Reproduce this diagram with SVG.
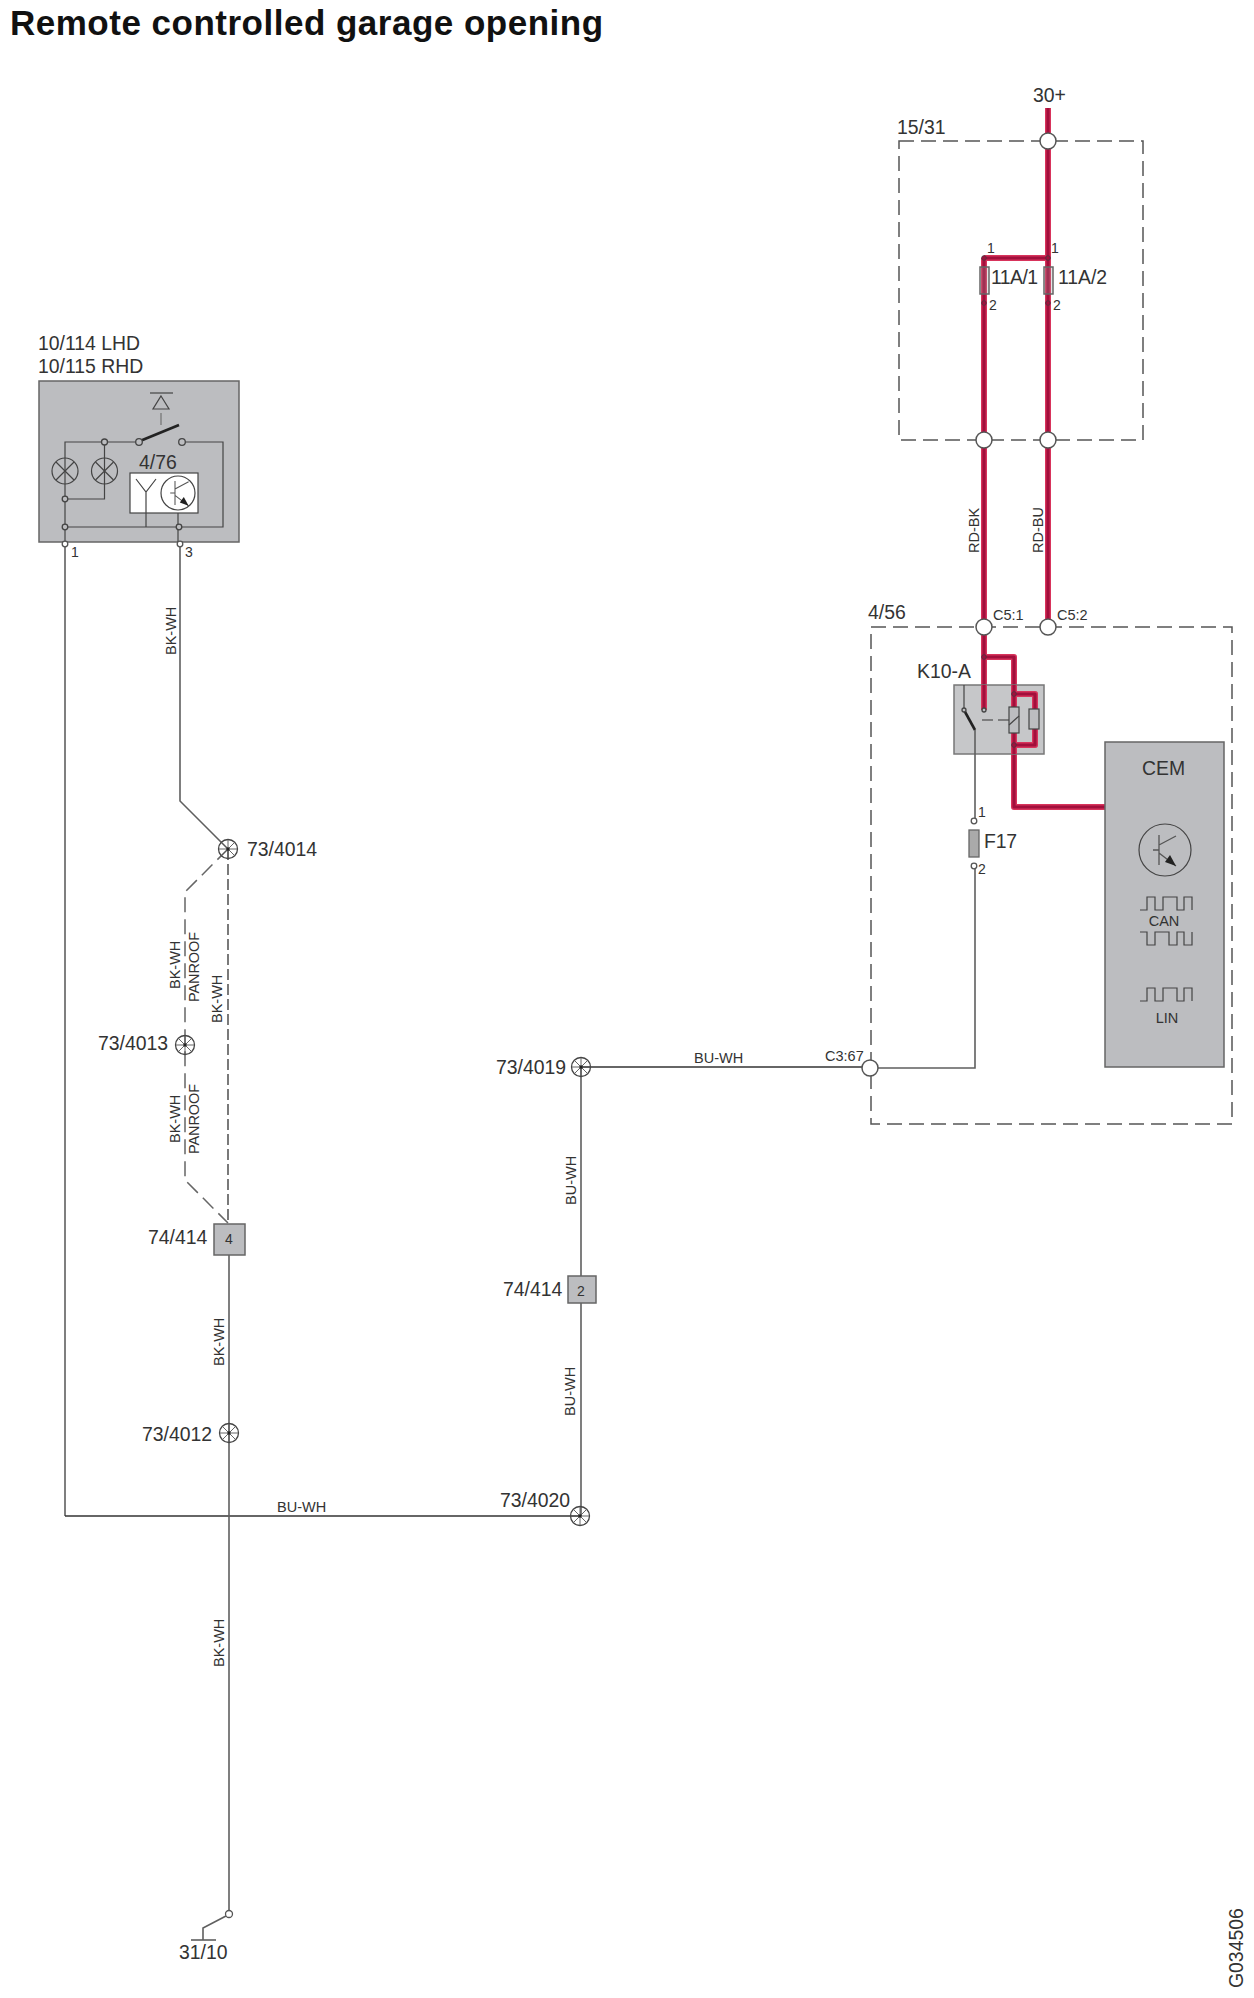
<svg xmlns="http://www.w3.org/2000/svg" width="1254" height="1998" viewBox="0 0 1254 1998">
<style>
text{font-family:"Liberation Sans",Arial,sans-serif;fill:#333}
.t19{font-size:19.4px}.t14{font-size:14.5px}.t13{font-size:14px}
.title{font-size:35px;font-weight:bold;fill:#111;letter-spacing:.5px}
.w{fill:none;stroke:#5f5f5f;stroke-width:1.6}
.wd{fill:none;stroke:#333;stroke-width:1.5}
.dash{fill:none;stroke:#666;stroke-width:1.5;stroke-dasharray:15 7}
.dash2{fill:none;stroke:#333;stroke-width:1.3;stroke-dasharray:11 4}
.box{fill:none;stroke:#555;stroke-width:1.5;stroke-dasharray:15 7}
.gray{fill:#bcbdc0;stroke:#666;stroke-width:1.5}
.thin{fill:none;stroke:#444;stroke-width:1.2}
.pin{fill:#fff;stroke:#555;stroke-width:1.3}
.pinG{fill:#bcbdc0;stroke:#444;stroke-width:1.3}
.port{fill:#fff;stroke:#555;stroke-width:1.5}
.rh{fill:none;stroke:#d8345c;stroke-width:6;stroke-linejoin:round}
.rc{fill:none;stroke:#a20f3c;stroke-width:3.2;stroke-linejoin:round}
.fuse{fill:#999;fill-opacity:.25;stroke:#666;stroke-width:1.5}
.fuseG{fill:#aaa;stroke:#666;stroke-width:1.3}
.rnode{fill:#a20f3c;stroke:#5a3040;stroke-width:1}
</style>
<defs>
<g id="splice"><circle r="9.500" fill="none" stroke="#444" stroke-width="1.300"/><path d="M-9.500 0H9.500M0-9.500V9.500M-6.700-6.700L6.700 6.700M-6.700 6.700L6.700-6.700" stroke="#555" stroke-width=".9" fill="none"/><circle r="1.700" fill="#222"/></g>
<g id="transistor"><path d="M0-15V15M-6 0H0M0-5L17-14M0 3L17 16" fill="none" stroke="#555" stroke-width="1.300"/><path d="M17 16L6 12L11 5Z" fill="#222"/></g>
<g id="wave"><path d="M0 13H7V0H15V13H23V0H37V13H44V0H52V13" fill="none" stroke="#444" stroke-width="1.200"/></g>
<g id="waveInv"><path d="M0 0H7V13H15V0H29V13H37V0H44V13H52V0" fill="none" stroke="#444" stroke-width="1.200"/></g>
</defs>

<text class="title" x="10" y="35">Remote controlled garage opening</text>
<text class="t19" transform="translate(1243 1988) rotate(-90)">G034506</text>

<g id="connectors">
<path class="w" d="M65 544V1516"/>
<path class="wd" d="M65 1516H580"/>
<path class="w" d="M180 544V801L228 849"/>
<path class="dash" d="M228 849L185 892V1180L228 1223"/>
<path class="dash2" d="M228 849V1223"/>
<path class="w" d="M229 1255V1911"/>
<path class="w" d="M226 1916L203 1928V1940"/>
<path class="w" d="M191 1940H216"/>
<path class="w" d="M581 1067V1276M581 1303V1516"/>
<path class="wd" d="M581 1067H862"/>
<path class="w" d="M878 1068H975V869"/>
<g id="red-wires">
<path class="rh" d="M1048 108V627M984 440V710M984 258H1048M984 258V440M984 657H1014V807H1106M1014 694H1035V745H1014"/>
<path class="rc" d="M1048 108V627M984 440V710M984 258H1048M984 258V440M984 657H1014V807H1106M1014 694H1035V745H1014"/>
</g>
<text class="t14" transform="translate(176 655) rotate(-90)">BK-WH</text>
<text class="t14" transform="translate(180 989) rotate(-90)">BK-WH</text>
<text class="t14" transform="translate(199 1002) rotate(-90)" textLength="70">PANROOF</text>
<text class="t14" transform="translate(222 1023) rotate(-90)">BK-WH</text>
<text class="t14" transform="translate(180 1143) rotate(-90)">BK-WH</text>
<text class="t14" transform="translate(199 1154) rotate(-90)" textLength="70">PANROOF</text>
<text class="t14" transform="translate(224 1366) rotate(-90)">BK-WH</text>
<text class="t14" transform="translate(224 1667) rotate(-90)">BK-WH</text>
<text class="t14" x="277" y="1512">BU-WH</text>
<text class="t14" transform="translate(576 1205) rotate(-90)">BU-WH</text>
<text class="t14" transform="translate(575 1416) rotate(-90)">BU-WH</text>
<text class="t14" x="694" y="1063">BU-WH</text>
<text class="t14" transform="translate(979 553) rotate(-90)">RD-BK</text>
<text class="t14" transform="translate(1043 553) rotate(-90)">RD-BU</text>
</g>

<g id="node-10-114">
<text class="t19" x="38" y="350">10/114 LHD</text>
<text class="t19" x="38" y="373">10/115 RHD</text>
<rect class="gray" x="39" y="381" width="200" height="161"/>
<path class="thin" d="M150 393H173"/>
<path class="thin" d="M161 396L169 409H153Z"/>
<path d="M161 413V425" stroke="#777" stroke-width="1.300" fill="none"/>
<path d="M140 441L179 425" stroke="#222" stroke-width="2.600" fill="none"/>
<path class="thin" d="M65 544V442H136M185 442H223V527H65M65 499H104.500V442M146 527V492M136 479L146 492L156 479M178 513V544"/>
<circle class="thin" cx="65" cy="471" r="13"/><path class="thin" d="M56 462L74 480M74 462L56 480"/>
<circle class="thin" cx="104.500" cy="471" r="13"/><path class="thin" d="M95.500 462L113.500 480M113.500 462L95.500 480"/>
<rect x="130" y="473" width="68" height="40" fill="#fff" stroke="#444" stroke-width="1.200"/>
<path class="thin" d="M146 513V492M136 479L146 492L156 479"/>
<circle class="thin" cx="178" cy="493" r="17"/>
<use href="#transistor" x="175" y="493" transform="translate(35 98.600) scale(.8)"/>
<circle class="pinG" cx="104.500" cy="442" r="3"/><circle class="pinG" cx="139" cy="442" r="3.300"/><circle class="pinG" cx="182" cy="442" r="3.300"/>
<circle class="pinG" cx="65" cy="499" r="2.800"/><circle class="pinG" cx="65" cy="527" r="2.800"/><circle class="pinG" cx="179" cy="527" r="2.800"/>
<circle class="pin" cx="65" cy="544" r="2.800"/><circle class="pin" cx="180" cy="544" r="2.800"/>
<text class="t19" x="139" y="469">4/76</text>
<text class="t13" x="71" y="557">1</text><text class="t13" x="185" y="557">3</text>
</g>

<g id="node-73-4014"><use href="#splice" x="228" y="849"/><text class="t19" x="247" y="856">73/4014</text></g>
<g id="node-73-4013"><use href="#splice" x="185" y="1045"/><text class="t19" x="98" y="1050">73/4013</text></g>
<g id="node-74-414a"><rect class="gray" x="214" y="1224" width="31" height="31"/><text class="t13" x="229" y="1244" text-anchor="middle">4</text><text class="t19" x="148" y="1244">74/414</text></g>
<g id="node-73-4012"><use href="#splice" x="229" y="1433"/><text class="t19" x="142" y="1441">73/4012</text></g>
<g id="node-73-4020"><use href="#splice" x="580" y="1516"/><text class="t19" x="500" y="1507">73/4020</text></g>
<g id="node-73-4019"><use href="#splice" x="581" y="1067"/><text class="t19" x="496" y="1074">73/4019</text></g>
<g id="node-74-414b"><rect class="gray" x="568" y="1276" width="28" height="27"/><text class="t13" x="581" y="1296" text-anchor="middle">2</text><text class="t19" x="503" y="1296">74/414</text></g>
<g id="node-31-10"><circle class="pin" cx="229" cy="1914" r="3.500"/><text class="t19" x="179" y="1959">31/10</text></g>

<g id="node-15-31">
<text class="t19" x="897" y="134">15/31</text>
<rect class="box" x="899" y="141" width="244" height="299"/>
<text class="t19" x="1033" y="102">30+</text>
<circle class="port" cx="1048" cy="141" r="8"/>
<rect class="fuse" x="980" y="267" width="9" height="27"/><rect class="fuse" x="1044" y="267" width="9" height="27"/>
<circle class="rnode" cx="984" cy="258" r="2.300"/><circle class="rnode" cx="1048" cy="258" r="2.300"/><circle class="rnode" cx="984" cy="303" r="2.300"/><circle class="rnode" cx="1048" cy="303" r="2.300"/>
<text class="t13" x="987" y="253">1</text><text class="t13" x="1051" y="253">1</text>
<text class="t13" x="989" y="310">2</text><text class="t13" x="1053" y="310">2</text>
<text class="t19" x="991" y="284" textLength="47">11A/1</text><text class="t19" x="1058" y="284" textLength="49">11A/2</text>
<circle class="port" cx="984" cy="440" r="8"/><circle class="port" cx="1048" cy="440" r="8"/>
</g>

<g id="node-4-56">
<rect class="box" x="871" y="627" width="361" height="497"/>
<text class="t19" x="868" y="619">4/56</text>
<text class="t14" x="993" y="620">C5:1</text><text class="t14" x="1057" y="620">C5:2</text>
<circle class="port" cx="984" cy="627" r="8"/><circle class="port" cx="1048" cy="627" r="8"/>
<text class="t14" x="825" y="1061">C3:67</text>
<circle class="port" cx="870" cy="1068" r="8"/>
</g>

<g id="node-k10-a">
<text class="t19" x="917" y="678">K10-A</text>
<rect x="954" y="685" width="90" height="69" fill="#bcbdc0" fill-opacity=".85" stroke="#777" stroke-width="1.500"/>
<path class="rh" d="M984 685V710M1014 685V754M1014 694H1035V745H1014"/>
<path class="rc" d="M984 685V710M1014 685V754M1014 694H1035V745H1014"/>
<path class="thin" d="M964 685V710"/>
<path d="M964 710L975 730" stroke="#222" stroke-width="2.600" fill="none"/>
<path d="M982 720H993M998 720H1009" stroke="#666" stroke-width="1.300" fill="none"/>
<rect x="1009" y="707" width="10" height="26" fill="#bcbdc0" stroke="#444" stroke-width="1.200"/>
<path class="thin" d="M1009 725L1019 716"/>
<rect x="1029" y="709" width="10" height="20" fill="#bcbdc0" stroke="#444" stroke-width="1.200"/>
<circle class="pinG" cx="964" cy="710" r="2"/><circle class="pinG" cx="984" cy="710" r="2"/>
<circle class="rnode" cx="984" cy="657" r="2.300"/><circle class="rnode" cx="1014" cy="694" r="2.300"/><circle class="rnode" cx="1014" cy="745" r="2.300"/>
</g>

<g id="node-f17">
<path class="w" d="M975 730V818"/>
<circle class="pin" cx="974" cy="821" r="2.800"/><circle class="pin" cx="974" cy="866" r="2.800"/>
<rect class="fuseG" x="969" y="830" width="10" height="27"/>
<text class="t13" x="978" y="817">1</text><text class="t13" x="978" y="874">2</text>
<text class="t19" x="984" y="848" textLength="33">F17</text>
</g>

<g id="node-cem">
<rect class="gray" x="1105" y="742" width="119" height="325"/>
<text class="t19" x="1142" y="775">CEM</text>
<circle class="thin" cx="1165" cy="850" r="26"/>
<use href="#transistor" x="1159" y="850"/>
<use href="#wave" x="1140" y="897"/>
<text class="t14" x="1164" y="926" text-anchor="middle">CAN</text>
<use href="#waveInv" x="1140" y="932"/>
<use href="#wave" x="1140" y="988"/>
<text class="t14" x="1167" y="1023" text-anchor="middle">LIN</text>
</g>
</svg>
